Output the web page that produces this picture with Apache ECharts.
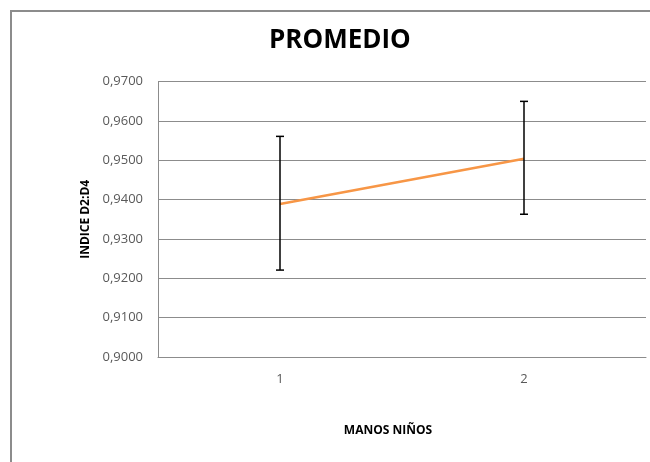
<!DOCTYPE html>
<html>
<head>
<meta charset="utf-8">
<script src="https://cdn.jsdelivr.net/npm/echarts@6/dist/echarts.min.js"></script>
<style>
html,body{margin:0;padding:0;background:#fff;overflow:hidden;}
#wrap{position:relative;width:650px;height:462px;overflow:hidden;background:#fff;}
#frame{position:absolute;left:10px;top:10px;width:640px;height:452px;border-left:2px solid #8c8c8c;border-top:2px solid #8c8c8c;border-right:none;border-bottom:none;box-sizing:border-box;}
#chart{position:absolute;left:0;top:0;width:650px;height:462px;}
</style>
</head>
<body>
<div id="wrap"><div id="frame"></div><div id="chart"></div></div>
<script>
const categories = ['1', '2'];
const meanValues = [0.9389, 0.9504];
const errLow = [0.9221, 0.9363];
const errHigh = [0.9561, 0.9650];
const titleText = 'PROMEDIO';
const xName = 'MANOS NIÑOS';
const yName = 'INDICE D2:D4';

const errData = categories.map((c, i) => [i, errLow[i], errHigh[i]]);

const chart = echarts.init(document.getElementById('chart'));
chart.setOption({
  animation: false,
  title: {
    text: titleText, left: 269, top: 28, padding: 0,
    textStyle: {fontFamily: 'Open Sans', fontWeight: 'bold', fontSize: 26, color: '#000'}
  },
  grid: {left: 158, right: 4, top: 81.7, bottom: 105},
  xAxis: {
    type: 'category', data: categories, boundaryGap: true,
    name: xName, nameLocation: 'middle', nameGap: 68,
    nameTextStyle: {fontFamily: 'Open Sans', fontWeight: 'bold', fontSize: 12, color: '#000', padding: [0, 28, 0, 0]},
    axisLine: {lineStyle: {color: '#8c8c8c', width: 1}},
    axisTick: {show: false},
    axisLabel: {fontFamily: 'Open Sans', fontSize: 13, color: '#595959', margin: 16}
  },
  yAxis: {
    type: 'value', min: 0.90, max: 0.97, interval: 0.01,
    name: yName, nameLocation: 'middle', nameGap: 66, nameRotate: 90,
    nameTextStyle: {fontFamily: 'Open Sans', fontWeight: 'bold', fontSize: 12, color: '#000'},
    axisLine: {show: true, lineStyle: {color: '#8c8c8c', width: 1}},
    axisTick: {show: false},
    splitLine: {lineStyle: {color: '#8c8c8c', width: 1}},
    axisLabel: {fontFamily: 'Open Sans', fontSize: 13, color: '#595959', margin: 15,
      formatter: v => v.toFixed(4).replace('.', ',')}
  },
  series: [
    {
      type: 'line', data: meanValues, symbol: 'none',
      lineStyle: {color: '#F79646', width: 2.5}, z: 3
    },
    {
      type: 'custom', data: errData, z: 4,
      renderItem: function (params, api) {
        const x = api.value(0);
        const lo = api.coord([x, api.value(1)]);
        const hi = api.coord([x, api.value(2)]);
        const hw = 4;
        const st = {stroke: '#000', lineWidth: 1.5};
        return {type: 'group', children: [
          {type: 'line', shape: {x1: lo[0], y1: lo[1], x2: hi[0], y2: hi[1]}, style: st},
          {type: 'line', shape: {x1: lo[0]-hw, y1: lo[1], x2: lo[0]+hw, y2: lo[1]}, style: st},
          {type: 'line', shape: {x1: hi[0]-hw, y1: hi[1], x2: hi[0]+hw, y2: hi[1]}, style: st}
        ]};
      }
    }
  ]
});
</script>
</body>
</html>
